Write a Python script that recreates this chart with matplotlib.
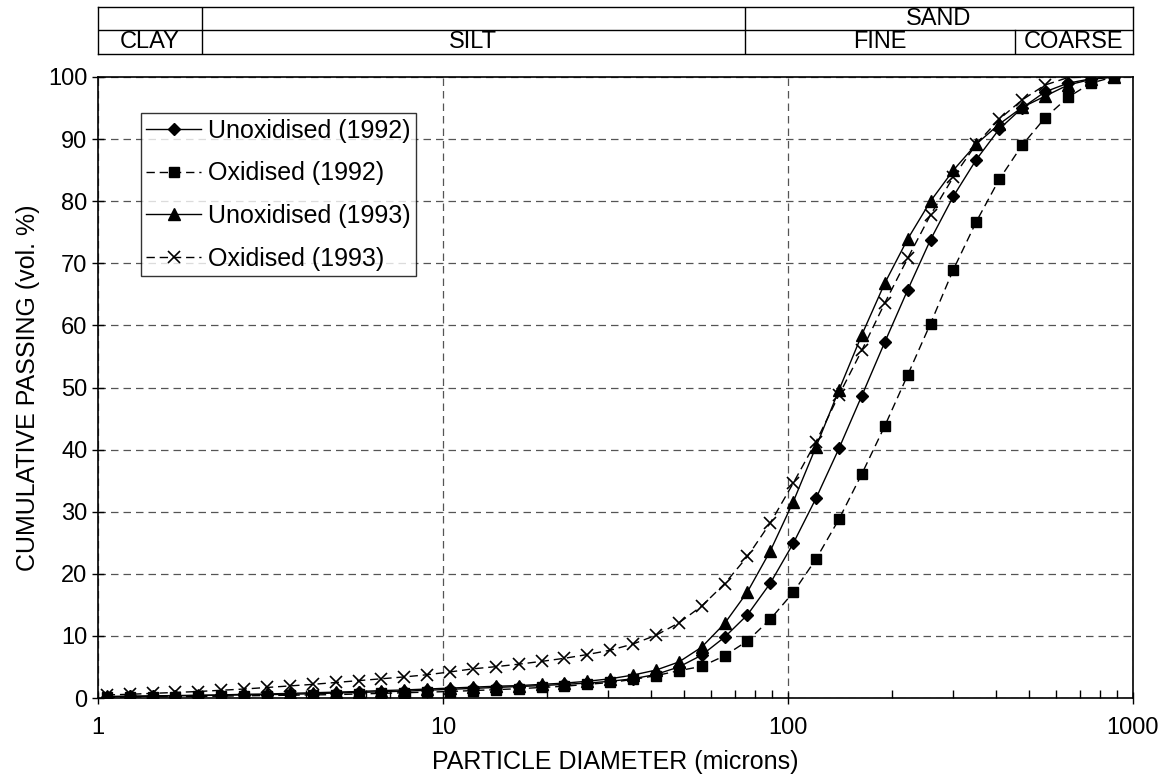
import numpy as np
import matplotlib.pyplot as plt
from matplotlib.ticker import FixedLocator, NullFormatter

plt.rcParams['font.family'] = ['Liberation Sans', 'DejaVu Sans']

# size classes (microns), smallest to largest
size_um = [1.060, 1.235, 1.439, 1.677, 1.954, 2.276, 2.652, 3.090, 3.599, 4.193,
           4.885, 5.691, 6.630, 7.724, 8.998, 10.48, 12.21, 14.23, 16.58, 19.31,
           22.50, 26.21, 30.53, 35.56, 41.43, 48.27, 56.23, 65.51, 76.32, 88.91,
           103.58, 120.67, 140.58, 163.77, 190.80, 222.28, 258.95, 301.68, 351.46, 409.45,
           477.01, 555.71, 647.41, 754.23, 878.67]

# cumulative passing, vol. %
unox_1992 = [0.2, 0.25, 0.3, 0.35, 0.4, 0.45, 0.5, 0.55, 0.6, 0.7,
             0.8, 0.9, 1.0, 1.1, 1.25, 1.4, 1.55, 1.7, 1.85, 2.0,
             2.2, 2.4, 2.7, 3.1, 3.8, 5.0, 6.9, 9.8, 13.4, 18.5,
             24.9, 32.2, 40.2, 48.7, 57.3, 65.7, 73.8, 80.8, 86.7, 91.6,
             95.0, 97.6, 99.0, 99.7, 100.0]
ox_1992 = [0.1, 0.15, 0.2, 0.2, 0.25, 0.3, 0.35, 0.4, 0.45, 0.5,
           0.55, 0.65, 0.75, 0.85, 0.95, 1.05, 1.2, 1.35, 1.5, 1.7,
           1.9, 2.2, 2.5, 3.0, 3.6, 4.4, 5.1, 6.8, 9.2, 12.7,
           17.0, 22.4, 28.8, 36.1, 43.8, 52.0, 60.3, 69.0, 76.7, 83.5,
           89.0, 93.4, 96.7, 99.0, 100.0]
unox_1993 = [0.25, 0.3, 0.35, 0.4, 0.45, 0.5, 0.6, 0.65, 0.75, 0.85,
             0.95, 1.05, 1.2, 1.3, 1.45, 1.6, 1.75, 1.9, 2.0, 2.2,
             2.4, 2.7, 3.1, 3.7, 4.5, 5.8, 8.2, 12.0, 17.1, 23.7,
             31.6, 40.5, 49.6, 58.5, 66.8, 73.9, 80.0, 85.0, 89.2, 92.4,
             95.1, 96.9, 98.7, 99.6, 100.0]
ox_1993 = [0.5, 0.6, 0.75, 0.9, 1.05, 1.25, 1.45, 1.7, 1.95, 2.2,
           2.5, 2.8, 3.1, 3.4, 3.75, 4.2, 4.7, 5.05, 5.45, 5.9,
           6.4, 7.0, 7.7, 8.7, 10.1, 12.1, 14.8, 18.4, 22.8, 28.2,
           34.6, 41.3, 48.8, 56.0, 63.6, 70.8, 77.8, 83.9, 89.2, 93.2,
           96.3, 98.7, 99.9, 100.0, 100.0]

# soil classes for the band above the plot (lower, upper bound in microns)
bands = {'CLAY': (1, 2), 'SILT': (2, 75), 'FINE': (75, 455), 'COARSE': (455, 1000)}

fig = plt.figure(figsize=(11.68, 7.8), dpi=100)
ax = fig.add_axes([0.0839, 0.1051, 0.8861, 0.7962])

dash = (6, 3.5)
ax.plot(size_um, unox_1992, color='black', lw=1.0, marker='D', ms=6.5,
        label='Unoxidised (1992)')
ax.plot(size_um, ox_1992, color='black', lw=1.0, ls=(0, dash), marker='s', ms=7.5,
        label='Oxidised (1992)')
ax.plot(size_um, unox_1993, color='black', lw=1.0, marker='^', ms=8.5,
        label='Unoxidised (1993)')
ax.plot(size_um, ox_1993, color='black', lw=1.0, ls=(0, dash), marker='x', ms=8.5,
        mew=1.2, label='Oxidised (1993)')

ax.set_xscale('log')
ax.set_xlim(1, 1000)
ax.set_ylim(0, 100)
ax.set_yticks(np.arange(0, 101, 10))
ax.xaxis.set_minor_locator(FixedLocator([m * 10 ** e for e in range(3) for m in range(2, 10)]))
ax.xaxis.set_minor_formatter(NullFormatter())
ax.set_xticks([1, 10, 100, 1000])
ax.set_xticklabels(['1', '10', '100', '1000'])

ax.grid(True, which='major', color='#555555', lw=0.9, ls=(0, (6, 4)))
ax.tick_params(which='major', direction='inout', length=9, width=1, labelsize=17)
ax.tick_params(axis='x', which='major', pad=9)
ax.tick_params(axis='y', which='major', pad=3)
ax.tick_params(axis='x', which='minor', direction='in', length=6, width=1)
for s in ax.spines.values():
    s.set_linewidth(1.2)

ax.set_xlabel('PARTICLE DIAMETER (microns)', fontsize=18, labelpad=8)
ax.set_ylabel('CUMULATIVE PASSING (vol. %)', fontsize=18, labelpad=6)

leg = ax.legend(loc='upper left', bbox_to_anchor=(0.0415, 0.942), fontsize=18,
                frameon=True, fancybox=False, edgecolor='black', handlelength=2.2,
                handletextpad=0.25, labelspacing=0.75, borderpad=0.22, borderaxespad=0)
leg.get_frame().set_linewidth(1.0)

# classification band drawn as a small table in the same log scale
hx = fig.add_axes([0.0839, 0.9308, 0.8861, 0.0603])
hx.set_xscale('log')
hx.set_xlim(1, 1000)
hx.set_ylim(0, 2)
hx.set_xticks([])
hx.set_yticks([])
hx.minorticks_off()
for s in hx.spines.values():
    s.set_linewidth(1.0)
hx.axhline(1, color='black', lw=1.0)
hx.axvline(bands['SILT'][0], color='black', lw=1.0)
hx.axvline(bands['FINE'][0], color='black', lw=1.0)
hx.plot([bands['COARSE'][0]] * 2, [0, 1], color='black', lw=1.0)
for name, (lo, hi) in bands.items():
    hx.text(np.sqrt(lo * hi), 0.5, name, ha='center', va='center', fontsize=17)
hx.text(np.sqrt(bands['FINE'][0] * bands['COARSE'][1]), 1.5, 'SAND',
        ha='center', va='center', fontsize=17)

fig.savefig('out.png', dpi=100)
